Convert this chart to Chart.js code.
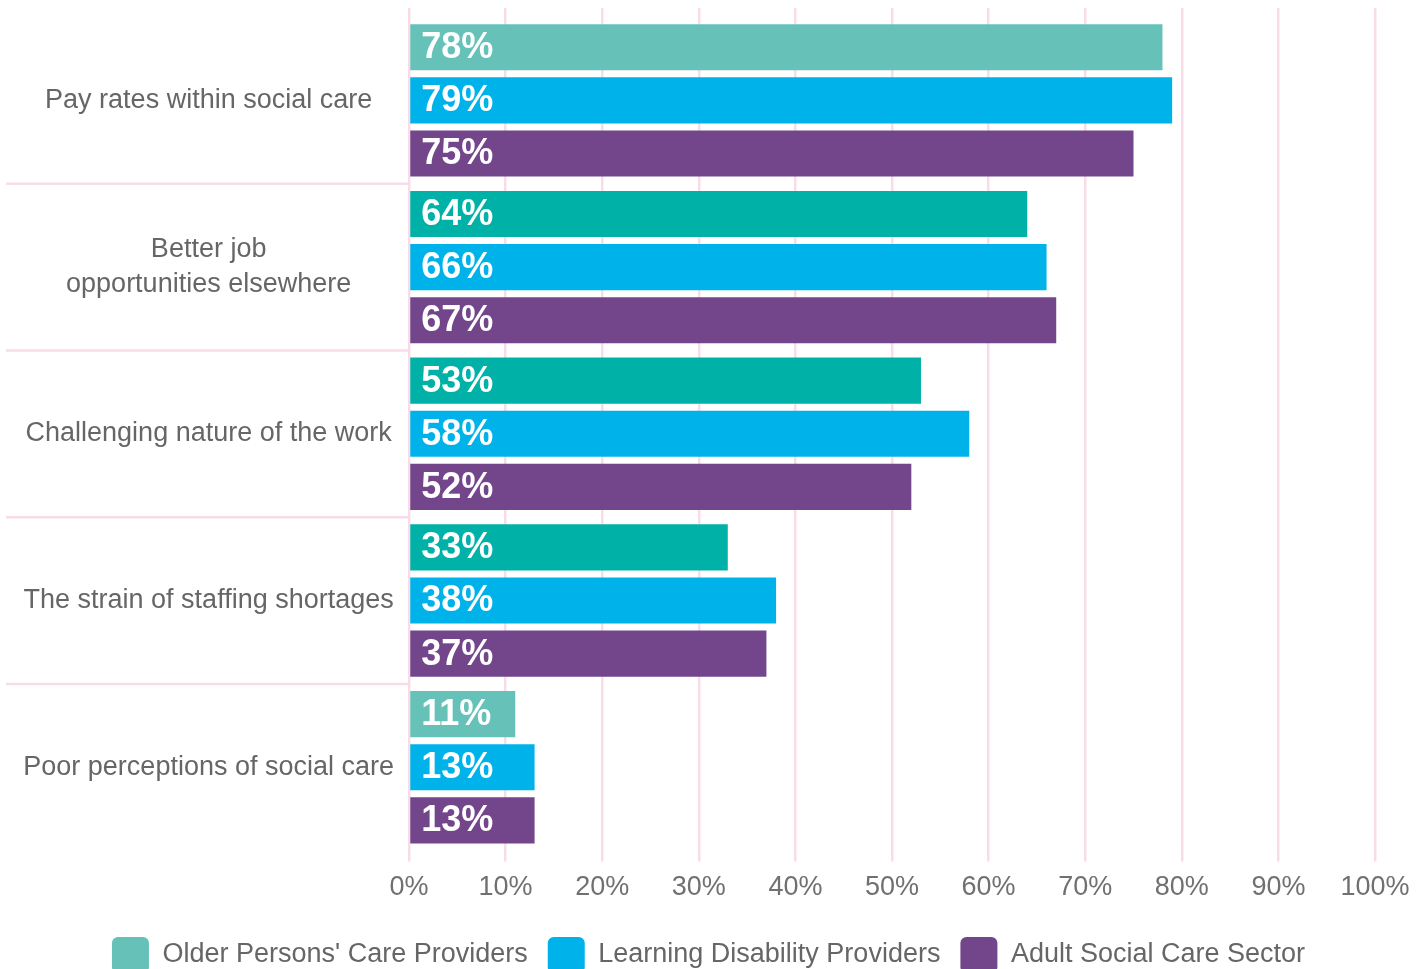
<!DOCTYPE html>
<html>
<head>
<meta charset="utf-8">
<script src="https://cdn.jsdelivr.net/npm/chart.js@4"></script>
<style>
  html, body { margin: 0; padding: 0; background: #fff; }
  #wrap { width: 1427px; height: 969px; }
</style>
</head>
<body>
<div id="wrap"><canvas id="reasonsChart"></canvas></div>
<script>
// Categories (y axis) and series values (%)
const categories = [
    'Pay rates within social care',
    ['Better job', 'opportunities elsewhere'],
    'Challenging nature of the work',
    'The strain of staffing shortages',
    'Poor perceptions of social care'
];
const olderPersons = [78, 64, 53, 33, 11];
const learningDisability = [79, 66, 58, 38, 13];
const adultSocialCare = [75, 67, 52, 37, 13];
const seriesNames = ["Older Persons' Care Providers", 'Learning Disability Providers', 'Adult Social Care Sector'];
const xTicks = [0, 10, 20, 30, 40, 50, 60, 70, 80, 90, 100];

// Colours
const tealLight = '#66c2b9';
const tealDark = '#00b1a7';
const blue = '#00b2ea';
const purple = '#73468c';
const gridPink = '#f8dde9';
const textGrey = '#666666';
const legendColors = [tealLight, blue, purple];
const FONT = "'Liberation Sans', Arial, sans-serif";

// White value labels drawn inside each bar
const barValueLabels = {
    id: 'barValueLabels',
    afterDatasetsDraw(chart) {
        const ctx = chart.ctx;
        ctx.save();
        ctx.fillStyle = '#ffffff';
        ctx.font = 'bold 36px ' + FONT;
        ctx.textAlign = 'left';
        ctx.textBaseline = 'middle';
        chart.data.datasets.forEach((ds, i) => {
            const meta = chart.getDatasetMeta(i);
            meta.data.forEach((bar, j) => {
                ctx.fillText(ds.data[j] + '%', bar.base + 11, bar.y + 1);
            });
        });
        ctx.restore();
    }
};

// Pink separators between the category labels
const categorySeparators = {
    id: 'categorySeparators',
    beforeDatasetsDraw(chart) {
        const y = chart.scales.y;
        const area = chart.chartArea;
        const step = y.getPixelForValue(1) - y.getPixelForValue(0);
        const ctx = chart.ctx;
        ctx.save();
        ctx.strokeStyle = gridPink;
        ctx.lineWidth = 2.5;
        for (let i = 1; i < categories.length; i++) {
            const py = y.getPixelForValue(i) - step / 2;
            ctx.beginPath();
            ctx.moveTo(6, py);
            ctx.lineTo(area.left, py);
            ctx.stroke();
        }
        ctx.restore();
    }
};

// Centre the legend on the whole canvas rather than the padded box
const legendFullWidth = {
    id: 'legendFullWidth',
    afterLayout(chart) {
        if (chart.legend) {
            chart.legend.left = 0;
            chart.legend.right = chart.width - 10;
        }
    }
};

const ctx = document.getElementById('reasonsChart').getContext('2d');
new Chart(ctx, {
    type: 'bar',
    data: {
        labels: categories,
        datasets: [
            {
                label: seriesNames[0],
                data: olderPersons,
                backgroundColor: [tealLight, tealDark, tealDark, tealDark, tealLight]
            },
            {
                label: seriesNames[1],
                data: learningDisability,
                backgroundColor: blue
            },
            {
                label: seriesNames[2],
                data: adultSocialCare,
                backgroundColor: purple
            }
        ]
    },
    options: {
        indexAxis: 'y',
        responsive: true,
        maintainAspectRatio: false,
        animation: false,
        categoryPercentage: 0.956,
        barPercentage: 0.868,
        layout: {
            padding: { top: 8, right: 52, left: 6, bottom: -14 }
        },
        scales: {
            x: {
                min: 0,
                max: 100,
                afterBuildTicks: (scale) => { scale.ticks = xTicks.map(v => ({ value: v })); },
                afterFit: (scale) => { scale.height += 3; },
                ticks: {
                    color: '#707070',
                    padding: 10,
                    font: { family: FONT, size: 27 },
                    callback: (v) => v + '%'
                },
                grid: { color: gridPink, lineWidth: 2.5, tickLength: 11 },
                border: { display: false }
            },
            xTop: {
                axis: 'x',
                position: 'top',
                min: 0,
                max: 100,
                afterBuildTicks: (scale) => { scale.ticks = xTicks.map(v => ({ value: v })); },
                ticks: { display: false },
                grid: { color: gridPink, lineWidth: 2.5, tickLength: 9, drawOnChartArea: false },
                border: { display: false }
            },
            y: {
                afterFit: (scale) => {
                    scale.width = 403;
                    scale.paddingTop = 0;
                    scale.paddingBottom = 0;
                },
                ticks: {
                    color: textGrey,
                    padding: 15,
                    crossAlign: 'center',
                    font: { family: FONT, size: 27, lineHeight: 1.3 }
                },
                grid: { display: false, drawTicks: false },
                border: { display: false }
            }
        },
        plugins: {
            legend: {
                position: 'bottom',
                labels: {
                    color: textGrey,
                    font: { family: FONT, size: 27 },
                    boxWidth: 37,
                    boxHeight: 36,
                    padding: 20,
                    useBorderRadius: true,
                    borderRadius: 6,
                    generateLabels: (chart) => {
                        const items = Chart.defaults.plugins.legend.labels.generateLabels(chart);
                        items.forEach((item, i) => {
                            item.fillStyle = legendColors[i];
                            item.strokeStyle = legendColors[i];
                            item.lineWidth = 0;
                            item.borderRadius = 6;
                        });
                        return items;
                    }
                }
            },
            tooltip: { enabled: false }
        }
    },
    plugins: [categorySeparators, barValueLabels, legendFullWidth]
});
</script>
</body>
</html>
